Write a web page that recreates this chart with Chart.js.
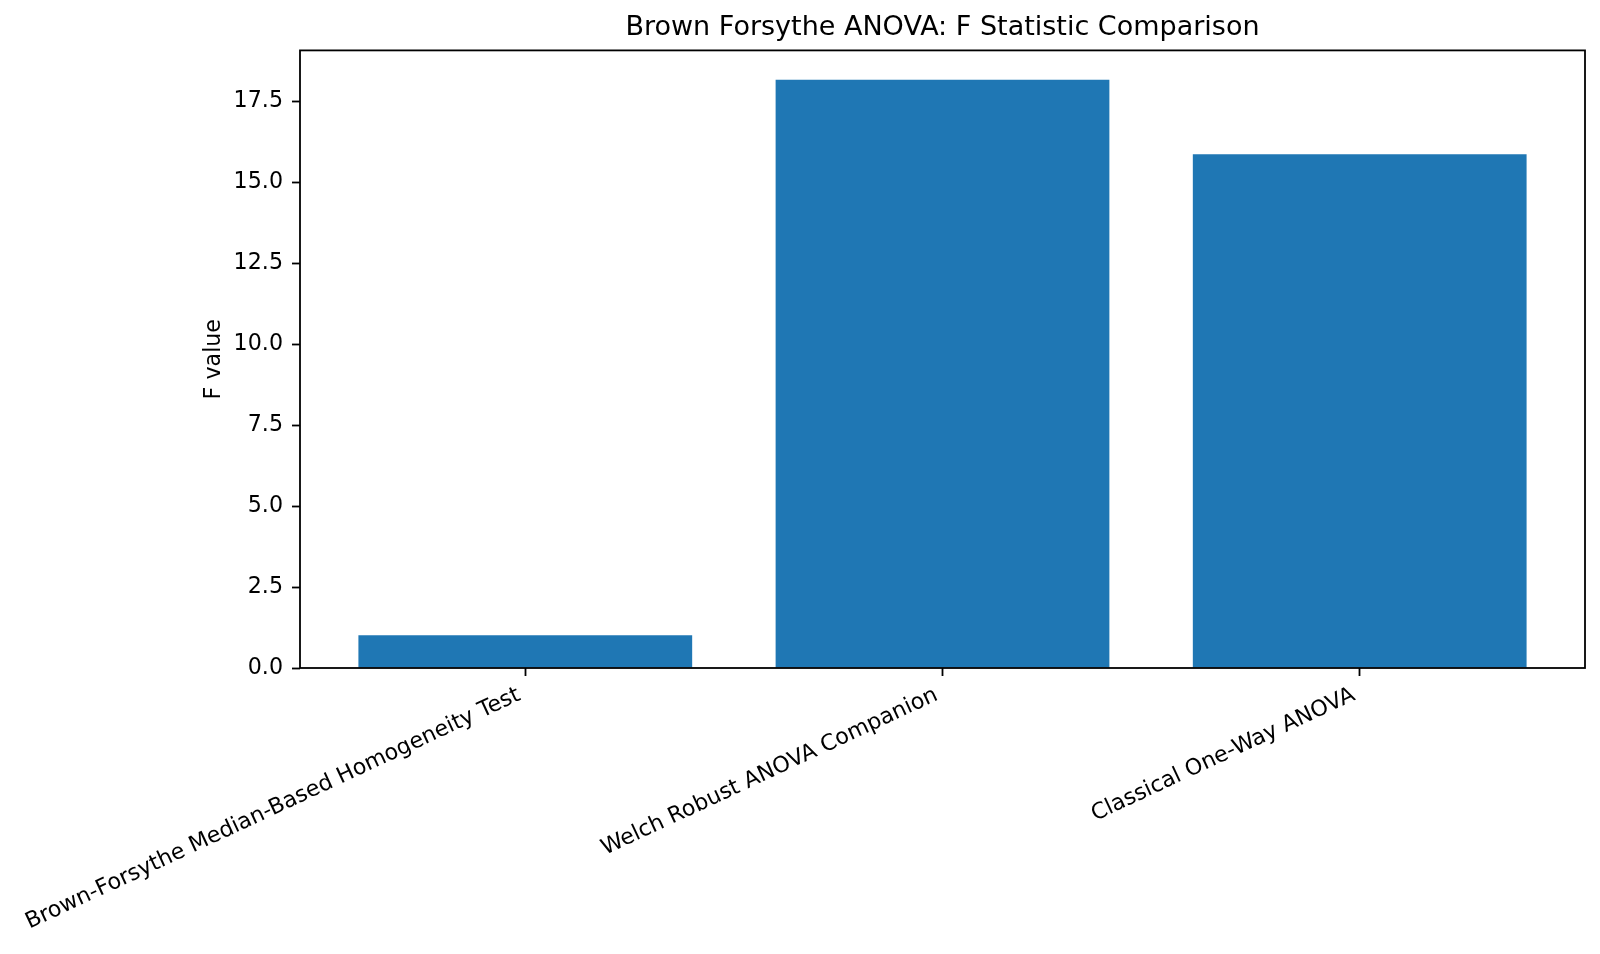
<!DOCTYPE html>
<html>
<head>
<meta charset="utf-8">
<script src="https://cdn.jsdelivr.net/npm/chart.js@4/dist/chart.umd.min.js"></script>
<style>
    body { margin: 0; background: #fff; }
    #wrap { width: 1600px; height: 954px; }
</style>
</head>
<body>
<div id="wrap"><canvas id="chart" width="1600" height="954"></canvas></div>
<script>
// data
const testNames = [
    'Brown-Forsythe Median-Based Homogeneity Test',
    'Welch Robust ANOVA Companion',
    'Classical One-Way ANOVA'
];
const fValues = [1.01, 18.17, 15.87];
const yTicks = [0, 2.5, 5, 7.5, 10, 12.5, 15, 17.5];

const FONT = 'DejaVu Sans';
const BAR_BLUE = '#1f77b4';

// box around the plot, like matplotlib spines
const framePlugin = {
    id: 'frame',
    afterDraw(chart) {
        const { ctx, chartArea: a } = chart;
        ctx.save();
        ctx.strokeStyle = '#000';
        ctx.lineWidth = 1.8;
        ctx.strokeRect(a.left, a.top, a.right - a.left, a.bottom - a.top);
        ctx.restore();
    }
};

const maxVal = Math.max(...fValues);

new Chart(document.getElementById('chart'), {
    type: 'bar',
    data: {
        datasets: [{
            label: 'F value',
            data: fValues.map((v, i) => ({ x: i, y: v })),
            backgroundColor: BAR_BLUE,
            borderWidth: 0,
            barPercentage: 0.8,
            categoryPercentage: 1.0
        }]
    },
    options: {
        responsive: false,
        animation: false,
        layout: { autoPadding: false, padding: { left: 0, right: 15, top: 0, bottom: 0 } },
        plugins: {
            legend: { display: false },
            tooltip: { enabled: false },
            title: {
                display: true,
                fullSize: false,
                text: 'Brown Forsythe ANOVA: F Statistic Comparison',
                color: '#000',
                font: { family: FONT, size: 27, weight: 'normal' },
                padding: { top: 12, bottom: 6 }
            }
        },
        scales: {
            x: {
                type: 'linear',
                offset: false,
                min: -0.54,
                max: testNames.length - 1 + 0.54,
                afterBuildTicks(scale) {
                    scale.ticks = testNames.map((_, i) => ({ value: i }));
                },
                afterFit(scale) {
                    // long rotated label may hang past the y axis, do not shrink the plot for it
                    scale.height = 286;
                    scale.paddingLeft = 0;
                    scale.paddingRight = 0;
                },
                grid: {
                    drawOnChartArea: false,
                    drawTicks: true,
                    tickLength: 8,
                    tickColor: '#000',
                    tickWidth: 1.8,
                    offset: false
                },
                border: { display: false },
                ticks: {
                    autoSkip: false,
                    maxRotation: 25,
                    minRotation: 25,
                    padding: 6,
                    labelOffset: -6,
                    color: '#000',
                    font: { family: FONT, size: 22.2 },
                    callback: (v) => testNames[v]
                }
            },
            y: {
                min: 0,
                max: maxVal * 1.05,
                afterBuildTicks(scale) {
                    scale.ticks = yTicks.map(v => ({ value: v }));
                },
                afterFit(scale) { scale.width = 300; },
                grid: {
                    drawOnChartArea: false,
                    drawTicks: true,
                    tickLength: 8,
                    tickColor: '#000',
                    tickWidth: 1.8
                },
                border: { display: false },
                ticks: {
                    padding: 9,
                    color: '#000',
                    font: { family: FONT, size: 22.2 },
                    callback: (v) => v.toFixed(1)
                },
                title: {
                    display: true,
                    text: 'F value',
                    color: '#000',
                    font: { family: FONT, size: 22.2 },
                    padding: { top: 201, bottom: 0 }
                }
            }
        }
    },
    plugins: [framePlugin]
});
</script>
</body>
</html>
